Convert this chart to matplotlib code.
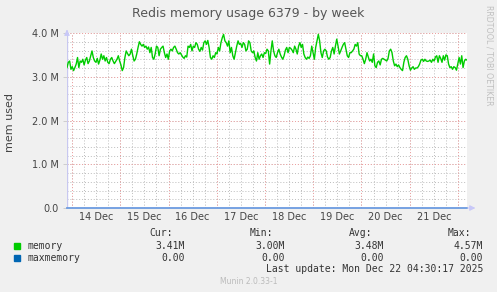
import numpy as np
import matplotlib
matplotlib.use("Agg")
import matplotlib.pyplot as plt
import matplotlib.dates as mdates
from datetime import datetime, timedelta

# datos (memoria en M)
t_inicio = datetime(2025, 12, 13, 21, 30)
t_fin = datetime(2025, 12, 22, 4, 30)

memoria = [
    3.21, 3.33, 3.36, 3.17, 3.23, 3.14, 3.21, 3.29, 3.44, 3.21, 3.36, 3.33, 3.40, 3.27, 3.38, 3.44,
    3.30, 3.36, 3.48, 3.59, 3.44, 3.36, 3.33, 3.42, 3.29, 3.38, 3.52, 3.40, 3.48, 3.36, 3.44, 3.33,
    3.30, 3.40, 3.44, 3.36, 3.30, 3.35, 3.40, 3.48, 3.36, 3.27, 3.14, 3.21, 3.44, 3.59, 3.53, 3.48,
    3.52, 3.63, 3.48, 3.36, 3.40, 3.52, 3.67, 3.80, 3.74, 3.70, 3.74, 3.67, 3.70, 3.63, 3.68, 3.55,
    3.67, 3.44, 3.40, 3.52, 3.70, 3.67, 3.48, 3.63, 3.67, 3.70, 3.55, 3.44, 3.52, 3.40, 3.59,
    # 16 Dec
    3.63, 3.59, 3.67, 3.70, 3.63, 3.55, 3.52, 3.55, 3.50, 3.45, 3.42, 3.48, 3.45, 3.70, 3.67, 3.74,
    3.59, 3.70, 3.67, 3.78, 3.74, 3.63, 3.58, 3.67, 3.61, 3.78, 3.82, 3.74, 3.83, 3.67, 3.44, 3.40,
    3.48, 3.44, 3.55, 3.52, 3.67, 3.59, 3.78, 3.89, 3.97, 3.82, 3.78, 3.70, 3.82, 3.55, 3.67, 3.48,
    3.40, 3.55, 3.70, 3.82, 3.74, 3.76, 3.67, 3.78, 3.74, 3.59, 3.63, 3.82, 3.78, 3.59, 3.55, 3.59,
    3.44, 3.36, 3.55, 3.40, 3.48, 3.52, 3.44, 3.55, 3.53, 3.63, 3.59, 3.29, 3.59,
    # 18 Dec
    3.82, 3.59, 3.48, 3.44, 3.55, 3.63, 3.52, 3.45, 3.40, 3.48, 3.61, 3.67, 3.55, 3.67, 3.65, 3.61,
    3.55, 3.70, 3.63, 3.52, 3.70, 3.78, 3.67, 3.74, 3.52, 3.44, 3.40, 3.45, 3.42, 3.48, 3.70, 3.55,
    3.40, 3.67, 3.82, 3.97, 3.82, 3.55, 3.44, 3.59, 3.63, 3.59, 3.45, 3.40, 3.44, 3.59, 3.67, 3.52,
    3.70, 3.86, 3.70, 3.52, 3.59, 3.67, 3.74, 3.78, 3.63, 3.48, 3.44, 3.55, 3.55, 3.59, 3.63, 3.74,
    3.70, 3.78, 3.52, 3.48, 3.48, 3.40, 3.30, 3.40, 3.55, 3.45, 3.36,
    # 20 Dec
    3.40, 3.33, 3.52, 3.25, 3.21, 3.33, 3.36, 3.27, 3.40, 3.42, 3.40, 3.38, 3.36, 3.42, 3.59, 3.63,
    3.55, 3.36, 3.25, 3.29, 3.23, 3.27, 3.21, 3.17, 3.14, 3.33, 3.44, 3.48, 3.40, 3.25, 3.15, 3.20,
    3.23, 3.17, 3.20, 3.20, 3.23, 3.29, 3.38, 3.40, 3.35, 3.40, 3.36, 3.35, 3.36, 3.38, 3.33, 3.40,
    3.36, 3.45, 3.48, 3.33, 3.48, 3.42, 3.33, 3.48, 3.38, 3.50, 3.48, 3.29, 3.21, 3.23, 3.17, 3.23,
    3.21, 3.15, 3.29, 3.44, 3.29, 3.48, 3.21, 3.36, 3.40, 3.38,
]
maxmemoria = [0.0] * len(memoria)

dias = [datetime(2025, 12, d) for d in range(14, 23)]
y_ticks = [0, 1, 2, 3, 4]
y_labels = ["0.0", "1.0 M", "2.0 M", "3.0 M", "4.0 M"]

leyenda_nombres = ["memory", "maxmemory"]
leyenda_colores = ["#00cc00", "#0066b3"]
leyenda_cur = ["3.41M", "0.00"]
leyenda_min = ["3.00M", "0.00"]
leyenda_avg = ["3.48M", "0.00"]
leyenda_max = ["4.57M", "0.00"]

W, H = 497, 292
fig = plt.figure(figsize=(W / 100, H / 100), dpi=100, facecolor="#f0f0f0")
ax = fig.add_axes([67 / W, (H - 208) / H, 400 / W, 175 / H])
ax.set_facecolor("white")

tiempos = [t_inicio + (t_fin - t_inicio) * i / (len(memoria) - 1) for i in range(len(memoria))]
x_ini = mdates.date2num(t_inicio)
x_fin = mdates.date2num(t_fin)

ax.set_xlim(x_ini, x_fin)
ax.set_ylim(0, 4.0)

# grilla menor (cada 6 h y 0.2 M)
gris = "#bcbcbc"
rojo = "#f0a0a0"
t = datetime(2025, 12, 14)
while mdates.date2num(t) < x_fin:
    ax.axvline(mdates.date2num(t), color=gris, lw=0.7, ls=(0, (1, 2)), zorder=1)
    t += timedelta(hours=6)
for v in np.arange(0.2, 4.01, 0.2):
    ax.axhline(v, color=gris, lw=0.7, ls=(0, (1, 2)), zorder=1)
# grilla mayor
for d in dias:
    if mdates.date2num(d) < x_fin:
        ax.axvline(mdates.date2num(d), color=rojo, lw=0.7, ls=(0, (1, 2)), zorder=1.5)
for v in y_ticks[1:]:
    ax.axhline(v, color=rojo, lw=0.7, ls=(0, (1, 2)), zorder=1.5)

ax.plot(mdates.date2num(tiempos), memoria, color=leyenda_colores[0], lw=1.0, zorder=3)
ax.plot(mdates.date2num(tiempos), maxmemoria, color="#6c9be0", lw=1.3, zorder=3, clip_on=False)

for s in ax.spines.values():
    s.set_visible(False)
ax.axvline(x_ini, color="#c8c8f0", lw=1.0, zorder=2)

# flechas de ejes
ax.annotate("", xy=(1.028, 0), xytext=(0.995, 0), xycoords="axes fraction",
            arrowprops=dict(arrowstyle="-|>", color="#c8c8f8", lw=0.8, mutation_scale=8))
ax.annotate("", xy=(0, 1.035), xytext=(0, 0.99), xycoords="axes fraction",
            arrowprops=dict(arrowstyle="-|>", color="#c8c8f8", lw=0.8, mutation_scale=8))

ax.set_yticks(y_ticks)
ax.set_yticklabels(y_labels)
medios = [mdates.date2num(d + timedelta(hours=12)) for d in dias[:-1]]
ax.set_xticks(medios)
ax.set_xticklabels([d.strftime("%d Dec").lstrip("0") for d in dias[:-1]])
ax.tick_params(axis="x", length=0, pad=3, labelsize=7, colors="#444444")
ax.tick_params(axis="y", length=3, width=0.6, color="#c8c8c8", pad=3, labelsize=7, colors="#444444")

fig.text(248 / W, 1 - 13 / H, "Redis memory usage 6379 - by week", ha="center", va="center",
         fontsize=9, color="#555555")
fig.text(10 / W, 1 - 122 / H, "mem used", rotation=90, ha="center", va="center",
         fontsize=8, color="#444444")
fig.text(489 / W, 1 - 5 / H, "RRDTOOL / TOBI OETIKER", rotation=270, ha="center", va="top",
         fontsize=5.7, color="#c0c0c0")

# leyenda estilo munin
mono = dict(family="DejaVu Sans Mono", fontsize=7, color="#333333", va="center")
for x, lab in [(149, "Cur:"), (250, "Min:"), (349, "Avg:"), (448, "Max:")]:
    fig.text(x / W, 1 - 233 / H, lab, **mono)
filas_y = [246, 258]
for i in range(2):
    y = 1 - filas_y[i] / H
    fig.patches.append(plt.Rectangle((14 / W, y - 3 / H), 6 / W, 6 / H, transform=fig.transFigure,
                                     color=leyenda_colores[i]))
    fig.text(27 / W, y, leyenda_nombres[i], **mono)
    fig.text(185 / W, y, leyenda_cur[i], ha="right", **mono)
    fig.text(285 / W, y, leyenda_min[i], ha="right", **mono)
    fig.text(384 / W, y, leyenda_avg[i], ha="right", **mono)
    fig.text(483 / W, y, leyenda_max[i], ha="right", **mono)
fig.text(483 / W, 1 - 269 / H, "Last update: Mon Dec 22 04:30:17 2025", ha="right", **mono)
fig.text(249 / W, 1 - 281 / H, "Munin 2.0.33-1", ha="center", va="center", fontsize=5.5,
         color="#bbbbbb")

fig.savefig("out.png", dpi=100, facecolor=fig.get_facecolor())
